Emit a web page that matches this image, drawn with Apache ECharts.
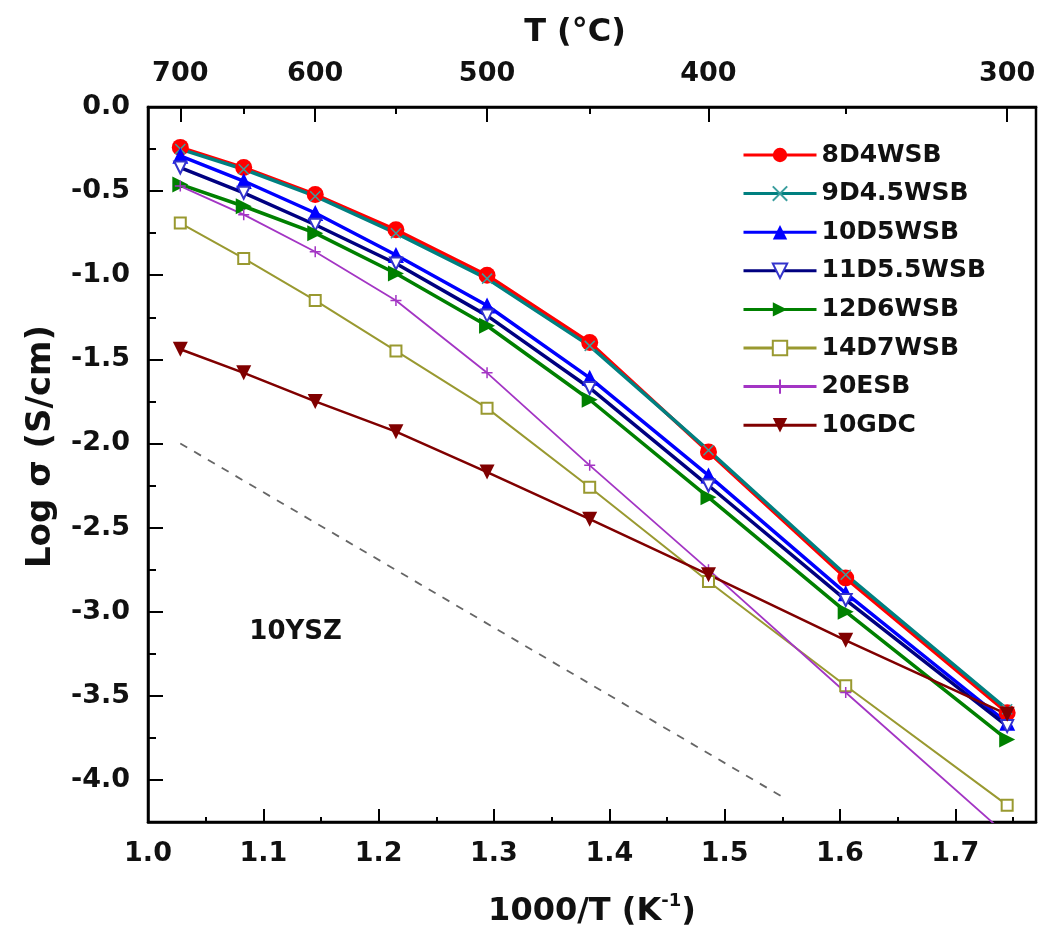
<!DOCTYPE html>
<html>
<head>
<meta charset="utf-8">
<script src="https://cdn.jsdelivr.net/npm/echarts@6/dist/echarts.min.js"></script>
<style>
  html, body { margin: 0; padding: 0; background: #fff; }
  #chart { width: 1040px; height: 933px; }
</style>
</head>
<body>
<div id="chart"></div>
<script>
// 1000/T positions of the measured temperatures (700 ... 300 °C)
const invT = [1.028, 1.083, 1.145, 1.215, 1.294, 1.383, 1.486, 1.605, 1.745];

const s8D4WSB   = [-0.24, -0.36, -0.52, -0.73, -1.00, -1.40, -2.05, -2.80, -3.60];
const s9D45WSB  = [-0.25, -0.37, -0.53, -0.75, -1.02, -1.42, -2.04, -2.78, -3.58];
const s10D5WSB  = [-0.29, -0.44, -0.63, -0.88, -1.18, -1.61, -2.19, -2.89, -3.66];
const s11D55WSB = [-0.36, -0.51, -0.70, -0.93, -1.24, -1.67, -2.25, -2.93, -3.68];
const s12D6WSB  = [-0.46, -0.59, -0.75, -0.99, -1.30, -1.74, -2.32, -3.00, -3.76];
const s14D7WSB  = [-0.69, -0.90, -1.15, -1.45, -1.79, -2.26, -2.82, -3.44, -4.15];
const s20ESB    = [-0.47, -0.64, -0.86, -1.15, -1.58, -2.13, -2.75, -3.48, -4.33];
const s10GDC    = [-1.44, -1.58, -1.75, -1.93, -2.17, -2.45, -2.78, -3.17, -3.61];

// 10YSZ reference (dashed line)
const yszX = [1.028, 1.55];
const yszY = [-2.0, -4.1];

// tick positions
const xMajor = [1.0, 1.1, 1.2, 1.3, 1.4, 1.5, 1.6, 1.7];
const xMinor = [1.05, 1.15, 1.25, 1.35, 1.45, 1.55, 1.65, 1.75];
const yMajor = [0, -0.5, -1.0, -1.5, -2.0, -2.5, -3.0, -3.5, -4.0];
const yMinor = [-0.25, -0.75, -1.25, -1.75, -2.25, -2.75, -3.25, -3.75];
const tempMajor = [1.028, 1.145, 1.294, 1.486, 1.745];
const tempMajorLabels = ['700', '600', '500', '400', '300'];
const tempMinor = [1.083, 1.215, 1.383, 1.605];

const FONT = 'DejaVu Sans';
const pair = (xs, ys) => xs.map((x, i) => [x, ys[i]]);

const X_MIN = 1.0, X_MAX = 1.77, Y_MIN = -4.25, Y_MAX = 0;

const labelStyle = { fontFamily: FONT, fontWeight: 'bold', fontSize: 27, color: '#111' };

function xAxisOf(position, ticks, len, labels) {
  return {
    type: 'value', position: position, min: X_MIN, max: X_MAX,
    axisLine: { show: !!labels, onZero: false, lineStyle: { color: '#000', width: 2.5 } },
    axisTick: { show: true, inside: true, length: len, customValues: ticks, lineStyle: { color: '#000', width: 2 } },
    axisLabel: labels ? Object.assign({ customValues: ticks, margin: 18 }, labelStyle, labels)
                      : { show: false, customValues: ticks },
    splitLine: { show: false }
  };
}

function yAxisOf(ticks, len, withLabels) {
  return {
    type: 'value', position: 'left', min: Y_MIN, max: Y_MAX,
    axisLine: { show: withLabels, onZero: false, lineStyle: { color: '#000', width: 2.5 } },
    axisTick: { show: true, inside: true, length: len, customValues: ticks, lineStyle: { color: '#000', width: 2 } },
    axisLabel: withLabels ? Object.assign({ customValues: ticks, margin: 18, formatter: v => v.toFixed(1) }, labelStyle)
                          : { show: false, customValues: ticks },
    splitLine: { show: false }
  };
}

const chart = echarts.init(document.getElementById('chart'), null, { renderer: 'canvas' });

const xPath = 'path://M0,0L10,10M10,0L0,10';
const plusPath = 'path://M5,0L5,10M0,5L10,5';

const option = {
  animation: false,
  backgroundColor: '#fff',
  grid: { left: 148, right: 4, top: 107, bottom: 110, show: true, borderColor: '#000', borderWidth: 2.5, backgroundColor: 'transparent' },
  legend: {
    orient: 'vertical', left: 742, top: 142, padding: 0,
    itemWidth: 73, itemHeight: 18, itemGap: 12.6,
    selectedMode: false,
    lineStyle: { width: 3 },
    textStyle: { fontFamily: FONT, fontWeight: 'bold', fontSize: 25, lineHeight: 26, color: '#111' },
    data: ['8D4WSB', '9D4.5WSB', '10D5WSB', '11D5.5WSB', '12D6WSB', '14D7WSB', '20ESB', '10GDC']
  },
  xAxis: [
    Object.assign(xAxisOf('bottom', xMajor, 13, { formatter: v => v.toFixed(1) }), {
      name: '1000/T (K{sup|-1})', nameLocation: 'middle', nameGap: 70,
      nameTextStyle: {
        fontFamily: FONT, fontWeight: 'bold', fontSize: 32, color: '#111',
        rich: { sup: { fontFamily: FONT, fontWeight: 'bold', fontSize: 18, color: '#111', verticalAlign: 'top', lineHeight: 40 } }
      }
    }),
    xAxisOf('bottom', xMinor, 5, null),
    Object.assign(xAxisOf('top', tempMajor, 15, { margin: 20, formatter: v => tempMajorLabels[tempMajor.indexOf(v)] || '' }), {
      name: 'T (°C)', nameLocation: 'middle', nameGap: 58,
      nameTextStyle: { fontFamily: FONT, fontWeight: 'bold', fontSize: 32, color: '#111', padding: [0, 34, 0, 0] }
    }),
    xAxisOf('top', tempMinor, 7, null)
  ],
  yAxis: [
    Object.assign(yAxisOf(yMajor, 15, true), {
      name: 'Log σ (S/cm)', nameLocation: 'middle', nameGap: 90, nameRotate: 90,
      nameTextStyle: { fontFamily: FONT, fontWeight: 'bold', fontSize: 34, color: '#111', padding: [0, 0, 0, 36] }
    }),
    yAxisOf(yMinor, 8, false)
  ],
  series: [
    {
      name: '8D4WSB', type: 'line', data: pair(invT, s8D4WSB),
      symbol: 'circle', symbolSize: 17,
      itemStyle: { color: '#ff0000' }, lineStyle: { color: '#ff0000', width: 3.5 }
    },
    {
      name: '9D4.5WSB', type: 'line', data: pair(invT, s9D45WSB),
      symbol: xPath, symbolSize: 10,
      itemStyle: { color: 'rgba(0,0,0,0)', borderColor: '#3a9e9e', borderWidth: 1.5 },
      lineStyle: { color: '#008080', width: 3.5 }
    },
    {
      name: '10D5WSB', type: 'line', data: pair(invT, s10D5WSB),
      symbol: 'triangle', symbolSize: 16,
      itemStyle: { color: '#0000ff' }, lineStyle: { color: '#0000ff', width: 3.5 }
    },
    {
      name: '11D5.5WSB', type: 'line', data: pair(invT, s11D55WSB),
      symbol: 'emptyTriangle', symbolSize: 12, symbolRotate: 180,
      itemStyle: { color: '#3333cc', borderWidth: 1.5 }, lineStyle: { color: '#000080', width: 3.5 }
    },
    {
      name: '12D6WSB', type: 'line', data: pair(invT, s12D6WSB),
      symbol: 'triangle', symbolSize: 16, symbolRotate: -90,
      itemStyle: { color: '#008000' }, lineStyle: { color: '#008000', width: 3.5 }
    },
    {
      name: '14D7WSB', type: 'line', data: pair(invT, s14D7WSB),
      symbol: 'emptyRect', symbolSize: 11,
      itemStyle: { color: '#999930', borderWidth: 1.5 }, lineStyle: { color: '#999930', width: 2 }
    },
    {
      name: '20ESB', type: 'line', data: pair(invT, s20ESB),
      symbol: plusPath, symbolSize: 11,
      itemStyle: { color: 'rgba(0,0,0,0)', borderColor: '#a335c4', borderWidth: 1.5 },
      lineStyle: { color: '#a335c4', width: 1.8 }
    },
    {
      name: '10GDC', type: 'line', data: pair(invT, s10GDC),
      symbol: 'triangle', symbolSize: 15, symbolRotate: 180,
      itemStyle: { color: '#800000' }, lineStyle: { color: '#800000', width: 2.5 }
    },
    {
      name: '10YSZ', type: 'line', data: pair(yszX, yszY),
      symbol: 'none', lineStyle: { color: '#666', width: 1.8, type: [8, 8] },
      markPoint: {
        symbol: 'circle', symbolSize: 0, silent: true,
        label: { show: true, position: 'inside', formatter: '10YSZ', fontFamily: FONT, fontWeight: 'bold', fontSize: 26, color: '#111' },
        data: [{ coord: [1.128, -3.12] }]
      }
    }
  ]
};

chart.setOption(option);
</script>
</body>
</html>
